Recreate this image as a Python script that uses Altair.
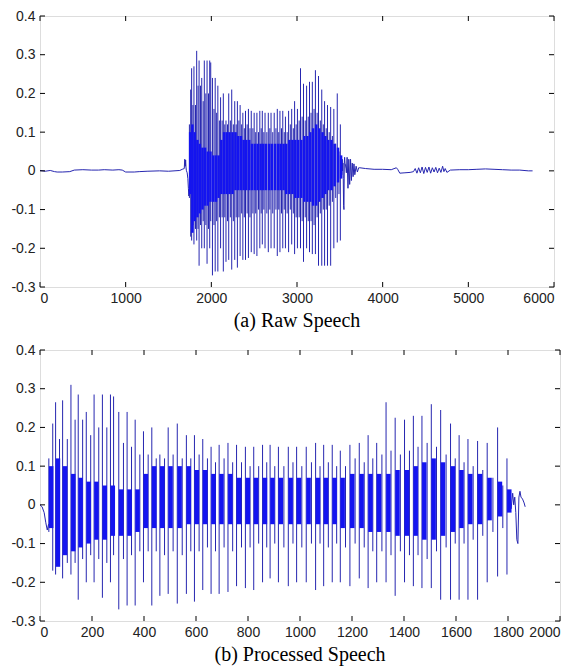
import altair as alt
import pandas as pd

# ---------------- data ----------------
# Processed speech (voiced segment), sample index 0..~1866
PRE_X = [0, 8, 16, 22, 28, 33]
PRE_Y = [0.0, -0.005, -0.02, -0.045, -0.065, -0.05]

MAIN_X = [36, 62, 89, 121, 149, 180, 210, 242, 273, 305,
          337, 368, 400, 432, 463, 495, 530, 565, 596, 628,
          660, 691, 725, 758, 792, 824, 858, 887, 919, 957,
          989, 1026, 1062, 1093, 1126, 1157, 1194, 1230, 1264, 1297,
          1333, 1368, 1404, 1438, 1471, 1507, 1543, 1581, 1614, 1648,
          1685, 1722, 1762, 1798]
MAIN_HI = [0.12, 0.265, 0.27, 0.31, 0.285, 0.24, 0.285, 0.285, 0.285, 0.24,
           0.24, 0.22, 0.19, 0.20, 0.13, 0.20, 0.21, 0.18, 0.18, 0.17,
           0.15, 0.155, 0.16, 0.155, 0.15, 0.15, 0.155, 0.155, 0.15, 0.15,
           0.15, 0.15, 0.16, 0.155, 0.155, 0.14, 0.155, 0.16, 0.18, 0.16,
           0.265, 0.225, 0.22, 0.23, 0.23, 0.26, 0.245, 0.21, 0.18, 0.17,
           0.165, 0.16, 0.20, 0.12]
MAIN_LO = [-0.07, -0.18, -0.19, -0.18, -0.245, -0.20, -0.20, -0.24, -0.20, -0.27,
           -0.26, -0.26, -0.20, -0.26, -0.235, -0.23, -0.255, -0.23, -0.25, -0.22,
           -0.23, -0.23, -0.225, -0.21, -0.215, -0.22, -0.20, -0.19, -0.20, -0.21,
           -0.20, -0.20, -0.22, -0.21, -0.20, -0.20, -0.21, -0.19, -0.215, -0.20,
           -0.20, -0.235, -0.20, -0.21, -0.215, -0.215, -0.245, -0.245, -0.245, -0.245,
           -0.245, -0.20, -0.185, -0.18]
# dense core of each pitch period (thick blue part next to the main spike)
CORE_HI = [0.10, 0.12, 0.10, 0.08, 0.07, 0.06, 0.06, 0.05, 0.05, 0.04,
           0.04, 0.04, 0.08, 0.10, 0.10, 0.10, 0.10, 0.10, 0.09, 0.09,
           0.08, 0.08, 0.08, 0.07, 0.07, 0.07, 0.07, 0.07, 0.07, 0.07,
           0.07, 0.07, 0.07, 0.07, 0.07, 0.07, 0.08, 0.08, 0.08, 0.08,
           0.08, 0.09, 0.09, 0.10, 0.11, 0.12, 0.11, 0.10, 0.09, 0.08,
           0.08, 0.07, 0.06, 0.04]
CORE_LO = [-0.06, -0.16, -0.13, -0.12, -0.11, -0.10, -0.09, -0.09, -0.08, -0.08,
           -0.08, -0.07, -0.06, -0.06, -0.06, -0.06, -0.06, -0.05, -0.05, -0.05,
           -0.05, -0.05, -0.05, -0.05, -0.05, -0.05, -0.05, -0.05, -0.05, -0.05,
           -0.05, -0.05, -0.05, -0.05, -0.05, -0.06, -0.06, -0.06, -0.07, -0.07,
           -0.07, -0.08, -0.08, -0.08, -0.09, -0.09, -0.08, -0.07, -0.06, -0.05,
           -0.05, -0.04, -0.03, -0.02]

SEC_X = [49, 75, 105, 135, 164, 195, 226, 257, 283, 321,
         352, 384, 416, 447, 479, 512, 547, 580, 612, 644,
         675, 708, 741, 775, 808, 841, 872, 903, 938, 973,
         1007, 1044, 1077, 1109, 1141, 1175, 1212, 1247, 1280, 1315,
         1350, 1386, 1421, 1454, 1489, 1525, 1562, 1597, 1631, 1666,
         1703, 1742, 1780]
SEC_HI = [0.21, 0.17, 0.17, 0.22, 0.22, 0.18, 0.20, 0.20, 0.28, 0.16,
          0.15, 0.13, 0.13, 0.12, 0.12, 0.13, 0.12, 0.12, 0.13, 0.12,
          0.11, 0.12, 0.11, 0.11, 0.10, 0.10, 0.11, 0.10, 0.10, 0.11,
          0.10, 0.11, 0.10, 0.11, 0.10, 0.10, 0.12, 0.11, 0.12, 0.13,
          0.14, 0.13, 0.14, 0.15, 0.16, 0.15, 0.13, 0.12, 0.11, 0.10,
          0.09, 0.07, 0.05]
SEC_LO = [-0.17, -0.14, -0.15, -0.15, -0.14, -0.13, -0.14, -0.15, -0.13, -0.14,
          -0.13, -0.12, -0.12, -0.12, -0.13, -0.12, -0.13, -0.12, -0.12, -0.11,
          -0.12, -0.11, -0.12, -0.11, -0.11, -0.10, -0.11, -0.10, -0.11, -0.10,
          -0.11, -0.10, -0.10, -0.11, -0.10, -0.11, -0.10, -0.11, -0.12, -0.12,
          -0.13, -0.12, -0.13, -0.13, -0.14, -0.12, -0.11, -0.10, -0.10, -0.09,
          -0.08, -0.07, -0.06]

TAIL_X = [1806, 1812, 1818, 1822, 1826, 1830, 1834, 1838, 1842, 1846, 1850, 1856, 1862, 1866]
TAIL_Y = [0.02, -0.01, 0.03, 0.0, 0.02, -0.02, -0.09, -0.10, 0.02, 0.035, 0.02, 0.015, 0.005, -0.005]

# Raw speech: silence before, decay and noise after the voiced part
OFFSET = 1710
SIL_X = [0, 60, 120, 170, 200, 260, 348, 400, 500, 600, 684, 750, 850, 921, 960,
         1000, 1100, 1158, 1250, 1395, 1500, 1632, 1660, 1684, 1690, 1696, 1700, 1704, 1708]
SIL_Y = [0.001, -0.001, 0.001, -0.002, -0.003, -0.003, -0.002, 0.002, 0.003, 0.002,
         0.002, 0.003, 0.002, 0.003, 0.002, -0.003, -0.003, -0.002, -0.001, 0.0,
         -0.001, 0.001, 0.004, 0.006, 0.03, 0.012, 0.028, 0.01, 0.002]
POST_X = [3585, 3595, 3605, 3615, 3625, 3635, 3645, 3655, 3665, 3675, 3690, 3705, 3720]
POST_Y = [0.035, -0.045, 0.03, -0.035, 0.03, -0.025, 0.02, -0.015, 0.018, -0.01, 0.012, -0.003, 0.008]
NOISE_X = [3733, 3800, 3900, 4000, 4100, 4160, 4175, 4200, 4260, 4320, 4360, 4380, 4400, 4420,
           4440, 4460, 4480, 4500, 4520, 4540, 4560, 4580, 4600, 4620, 4640, 4660, 4680, 4700,
           4715, 4730, 4750, 4790, 4900, 5000, 5100, 5200, 5300, 5400, 5500, 5600, 5700, 5750]
NOISE_Y = [0.008, 0.006, 0.004, 0.004, 0.003, 0.008, 0.004, -0.006, -0.005, -0.004, -0.002, 0.006,
           -0.006, 0.008, -0.005, 0.01, -0.007, 0.009, -0.004, 0.01, -0.006, 0.008, -0.003, 0.009,
           -0.005, 0.007, -0.004, 0.012, -0.002, 0.006, -0.004, 0.002, 0.003, 0.003, 0.004, 0.005,
           0.004, 0.003, 0.002, 0.002, 0.0, 0.0]

Y_TICKS = [-0.3, -0.2, -0.1, 0.0, 0.1, 0.2, 0.3, 0.4]
XA_TICKS = [0, 1000, 2000, 3000, 4000, 5000, 6000]
XB_TICKS = [0, 200, 400, 600, 800, 1000, 1200, 1400, 1600, 1800, 2000]

# ---------------- build tables ----------------
def seg_table(parts):
    rows = []
    for s, pts in enumerate(parts):
        for x, y in pts:
            rows.append({"x": x, "y": y, "seg": s, "i": len(rows)})
    return pd.DataFrame(rows)

pre = list(zip(PRE_X, PRE_Y))
tail = list(zip(TAIL_X, TAIL_Y))
line_b = seg_table([pre, tail])
line_a = seg_table([
    list(zip(SIL_X, SIL_Y)) + [(x + OFFSET, y) for x, y in pre],
    [(x + OFFSET, y) for x, y in tail] + list(zip(POST_X, POST_Y)) + list(zip(NOISE_X, NOISE_Y)),
])

# vertical excursions of the voiced part: main spike and the mid-period spike
spk_b = pd.DataFrame({
    "x": [x - 2 for x in MAIN_X] + SEC_X,
    "lo": MAIN_LO + SEC_LO,
    "hi": MAIN_HI + SEC_HI,
})
spk_a = spk_b.assign(x=spk_b["x"] + OFFSET)
core_b = pd.DataFrame({"x": [x + 7 for x in MAIN_X], "lo": CORE_LO, "hi": CORE_HI})
core_a = core_b.assign(x=core_b["x"] + OFFSET)

BLUE_FILL = "#1414f0"
BLUE_LINE = "#2626b0"
Y_LABELS = ("abs(datum.value) < 1e-9 ? '0' : (datum.value < 0 ? '-' + format(-datum.value, '.1f')"
            " : format(datum.value, '.1f'))")
X_LABELS = "format(datum.value, 'd')"


def panel(core, spk, line, xdom, xticks, caption, w, h, core_w):
    xs = alt.Scale(domain=xdom, nice=False, zero=False)
    ys = alt.Scale(domain=[-0.3, 0.4], nice=False, zero=False)
    lab = dict(title=None, grid=False, domain=False, ticks=False, labelOverlap=False,
               labelFont="Liberation Sans", labelFontSize=14, labelColor="#222")
    ln = alt.Chart(line).mark_line(color=BLUE_LINE, strokeWidth=1).encode(
        x=alt.X("x:Q", scale=xs, axis=alt.Axis(orient="bottom", values=xticks, labelExpr=X_LABELS,
                                                labelPadding=4, **lab)),
        y=alt.Y("y:Q", scale=ys, axis=alt.Axis(orient="left", values=Y_TICKS, labelExpr=Y_LABELS,
                                                labelPadding=5, **lab)),
        detail="seg:N",
        order="i:Q",
    )
    spikes = alt.Chart(spk).mark_rule(color=BLUE_LINE, strokeWidth=1).encode(
        x=alt.X("x:Q", scale=xs, axis=None), y=alt.Y("lo:Q", scale=ys, axis=None), y2="hi:Q")
    cores = alt.Chart(core).mark_rule(color=BLUE_FILL, strokeWidth=core_w).encode(
        x=alt.X("x:Q", scale=xs, axis=None), y=alt.Y("lo:Q", scale=ys, axis=None), y2="hi:Q")
    xt = pd.DataFrame({"v": xticks})
    yt = pd.DataFrame({"v": Y_TICKS})
    tick = dict(color="#000", strokeWidth=1)
    t_bottom = alt.Chart(xt).mark_rule(**tick).encode(
        x=alt.X("v:Q", scale=xs, axis=None), y=alt.value(h), y2=alt.value(h - 5))
    t_top = alt.Chart(xt).mark_rule(**tick).encode(
        x=alt.X("v:Q", scale=xs, axis=None), y=alt.value(0), y2=alt.value(5))
    t_left = alt.Chart(yt).mark_rule(**tick).encode(
        y=alt.Y("v:Q", scale=ys, axis=None), x=alt.value(0), x2=alt.value(5))
    t_right = alt.Chart(yt).mark_rule(**tick).encode(
        y=alt.Y("v:Q", scale=ys, axis=None), x=alt.value(w), x2=alt.value(w - 5))
    return alt.layer(ln, spikes, cores, t_bottom, t_top, t_left, t_right).resolve_axis(
        x="independent", y="independent"
    ).properties(
        width=w, height=h,
        title=alt.TitleParams(caption, orient="bottom", font="Liberation Serif", fontSize=20,
                              fontWeight="normal", color="#000", offset=6, anchor="middle"),
    )


top = panel(core_a, spk_a, line_a, [0, 6000], XA_TICKS, "(a) Raw Speech", 514, 271, 2.5)
bot = panel(core_b, spk_b, line_b, [0, 2000], XB_TICKS, "(b) Processed Speech", 520, 271, 4.5)

chart = alt.vconcat(top, bot, spacing=10).properties(
    padding={"top": 0, "left": 2, "right": 2, "bottom": 0}
).configure_view(
    stroke="#000", strokeWidth=1
).configure(background="white")

chart.save("out.html", embed_options={"renderer": "svg", "actions": False})
